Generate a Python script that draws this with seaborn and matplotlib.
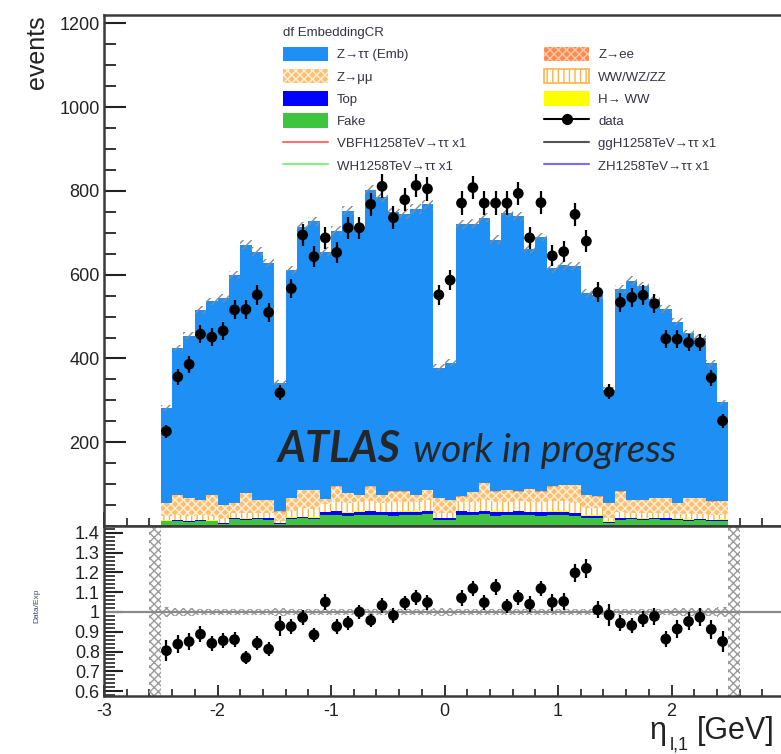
import numpy as np
import pandas as pd
import matplotlib
matplotlib.use("Agg")
import matplotlib.pyplot as plt
import seaborn as sns
from matplotlib.patches import Patch
from matplotlib.lines import Line2D
from matplotlib.ticker import MultipleLocator, FixedLocator, FormatStrFormatter, FixedFormatter
from matplotlib.colors import to_rgb

# ---------------- data ----------------
eta_edges = np.linspace(-2.5, 2.5, 51)

data_events = [226, 356, 386, 458, 451, 466, 516, 517, 552, 510,
               318, 567, 695, 643, 688, 653, 712, 712, 768, 811,
               736, 779, 813, 805, 552, 587, 771, 808, 771, 771,
               771, 794, 688, 772, 645, 655, 744, 680, 558, 320,
               534, 546, 551, 531, 447, 446, 438, 438, 354, 251]

mc_total = [281, 425, 454, 516, 536, 545, 600, 672, 655, 628,
            342, 612, 715, 727, 655, 705, 753, 712, 802, 785,
            749, 745, 757, 768, 378, 390, 720, 722, 736, 684,
            748, 739, 662, 690, 615, 622, 621, 557, 552, 325,
            566, 586, 572, 543, 518, 488, 460, 450, 388, 295]

fake = [11, 12, 10, 12, 11, 4, 16, 15, 16, 15,
        5, 17, 18, 17, 26, 27, 25, 26, 27, 26,
        25, 27, 26, 28, 14, 15, 27, 26, 28, 25,
        26, 27, 26, 25, 27, 26, 24, 20, 20, 8,
        15, 16, 14, 16, 15, 14, 13, 14, 12, 13]

top = [2, 2, 2, 2, 2, 2, 2, 2, 2, 3,
       1, 3, 3, 3, 7, 8, 7, 8, 8, 7,
       8, 7, 8, 8, 4, 4, 8, 7, 8, 9,
       7, 8, 7, 8, 7, 8, 7, 5, 5, 2,
       4, 3, 3, 3, 3, 3, 2, 2, 2, 2]

hww = [1, 1, 1, 1, 1, 1, 1, 1, 1, 1,
       1, 1, 1, 1, 1, 1, 1, 1, 1, 1,
       1, 1, 1, 1, 1, 1, 1, 1, 1, 1,
       1, 1, 1, 1, 1, 1, 1, 1, 1, 1,
       1, 1, 1, 1, 1, 1, 1, 1, 1, 1]

diboson = [10, 11, 10, 11, 10, 9, 11, 12, 11, 11,
           6, 14, 20, 20, 18, 22, 21, 22, 24, 22,
           23, 23, 22, 24, 12, 12, 22, 23, 25, 23,
           24, 23, 24, 23, 24, 25, 24, 18, 16, 8,
           14, 12, 12, 12, 12, 11, 12, 12, 11, 11]

zmumu = [30, 48, 43, 36, 50, 34, 24, 48, 32, 32,
         21, 31, 44, 45, 12, 36, 24, 17, 34, 18,
         25, 24, 17, 25, 35, 30, 12, 23, 40, 24,
         28, 23, 30, 25, 35, 38, 42, 30, 28, 35,
         48, 30, 32, 34, 35, 25, 38, 37, 32, 32]

zee = [1, 1, 1, 1, 1, 1, 1, 1, 1, 1,
       1, 1, 1, 1, 1, 1, 1, 1, 1, 1,
       1, 1, 1, 1, 1, 1, 1, 1, 1, 1,
       1, 1, 1, 1, 1, 1, 1, 1, 1, 1,
       1, 1, 1, 1, 1, 1, 1, 1, 1, 1]

y_ticks_main = [200, 400, 600, 800, 1000, 1200]
y_ticks_ratio = [0.6, 0.7, 0.8, 0.9, 1.0, 1.1, 1.2, 1.3, 1.4]
x_ticks = [-3, -2, -1, 0, 1, 2, 3]
x_tick_labels = ["-3", "-2", "-1", "0", "1", "2", ""]

# ---------------- derived ----------------
data_arr = np.array(data_events, dtype=float)
mc_arr = np.array(mc_total, dtype=float)
small = np.array(fake) + np.array(top) + np.array(hww) + np.array(diboson) + np.array(zmumu) + np.array(zee)
ztt = mc_arr - small
centers = 0.5 * (eta_edges[:-1] + eta_edges[1:])

procs = ["Z→ττ (Emb)", "Z→ee", "Z→μμ", "WW/WZ/ZZ", "H→ WW", "Top", "Fake"]
vals = [ztt, zee, zmumu, diboson, hww, top, fake]
rows = []
for p, v in zip(procs, vals):
    for c, w in zip(centers, v):
        rows.append((float(c), float(w), p))
df = pd.DataFrame(rows, columns=["eta", "events", "process"])

palette = {"Z→ττ (Emb)": "#1e8ff5", "Z→ee": "#ff8a50", "Z→μμ": "#ffbf70",
           "WW/WZ/ZZ": "#fffdf8", "H→ WW": "#ffff00", "Top": "#0000ff",
           "Fake": "#3fc43f"}
hatches = {"Z→ee": ("xxxx", "#ffc8a8"), "Z→μμ": ("xxxx", "#fff0dc"),
           "WW/WZ/ZZ": ("|||", "#ffb347")}

# ---------------- style ----------------
sns.set_theme(style="ticks")
plt.rcParams["font.family"] = ["Liberation Sans", "DejaVu Sans"]
plt.rcParams["axes.unicode_minus"] = False
plt.rcParams["hatch.linewidth"] = 1.0

fig = plt.figure(figsize=(7.81, 7.54), dpi=100)
L, W = 104 / 781, 681 / 781
ax = fig.add_axes([L, 1 - 526 / 754, W, (526 - 15) / 754])
ax2 = fig.add_axes([L, 1 - 696 / 754, W, (696 - 526) / 754], sharex=ax)

# stacked MC
sns.histplot(data=df, x="eta", weights="events", hue="process", hue_order=procs,
             multiple="stack", bins=[float(e) for e in eta_edges], element="step", fill=True,
             palette=palette, alpha=1, linewidth=0, legend=False, ax=ax)
for coll in ax.collections:
    fc = np.array(coll.get_facecolor())
    if fc.size == 0:
        continue
    for name, (h, hc) in hatches.items():
        if np.allclose(fc[0][:3], to_rgb(palette[name]), atol=0.01):
            coll.set_hatch(h)
            coll.set_edgecolor(hc)
            coll.set_linewidth(0)

# MC stat band
unc = 0.4 * np.sqrt(mc_arr)
ax.stairs(mc_arr + unc, eta_edges, baseline=mc_arr - unc, fill=True,
          facecolor="none", edgecolor="#8a8a8a", hatch="////", linewidth=0, zorder=3)

# data
ax.errorbar(centers, data_arr, yerr=np.sqrt(data_arr), fmt="none",
            ecolor="black", elinewidth=1.6, capsize=0, zorder=4)
sns.scatterplot(x=centers, y=data_arr, color="black", s=60, edgecolor="none",
                ax=ax, zorder=5, legend=False)

ax.set_xlim(-3, 3)
ax.set_ylim(0, 1220)
ax.set_xlabel("")
ax.set_ylabel("")
ax.yaxis.set_major_locator(FixedLocator(y_ticks_main))
ax.yaxis.set_minor_locator(MultipleLocator(50))
ax.xaxis.set_major_locator(FixedLocator(x_ticks))
ax.xaxis.set_minor_locator(MultipleLocator(0.2))
ax.tick_params(axis="y", which="major", direction="in", length=16, width=1.5,
               labelsize=13, pad=3, colors="#222222")
ax.tick_params(axis="y", which="minor", direction="in", length=8.5, width=1.3, colors="#222222")
ax.tick_params(axis="x", which="major", direction="in", length=10, width=1.3,
               labelbottom=False, colors="#222222")
ax.tick_params(axis="x", which="minor", direction="in", length=6, width=1.2, colors="#222222")
for s in ax.spines.values():
    s.set_linewidth(1.8)
    s.set_color("#3a3a3a")

# legend
handles = [
    Patch(facecolor=palette["Z→ττ (Emb)"], edgecolor="none"),
    Patch(facecolor=palette["Z→μμ"], edgecolor=hatches["Z→μμ"][1], hatch="xxxx", lw=0),
    Patch(facecolor=palette["Top"], edgecolor="none"),
    Patch(facecolor=palette["Fake"], edgecolor="none"),
    Line2D([0], [0], color="#ff7070", lw=1.5),
    Line2D([0], [0], color="#88f088", lw=1.5),
    Patch(facecolor=palette["Z→ee"], edgecolor=hatches["Z→ee"][1], hatch="xxxx", lw=0),
    Patch(facecolor="white", edgecolor="#ffb347", hatch="|||", lw=1.2),
    Patch(facecolor=palette["H→ WW"], edgecolor="none"),
    Line2D([0], [0], color="black", lw=1.5, marker="o", markersize=7),
    Line2D([0], [0], color="#555555", lw=1.5),
    Line2D([0], [0], color="#7a6cff", lw=1.5),
]
labels = ["Z→ττ (Emb)", "Z→μμ", "Top", "Fake", "VBFH1258TeV→ττ x1", "WH1258TeV→ττ x1",
          "Z→ee", "WW/WZ/ZZ", "H→ WW", "data", "ggH1258TeV→ττ x1", "ZH1258TeV→ττ x1"]
leg = ax.legend(handles, labels, ncol=2, loc="upper left",
                bbox_to_anchor=((283 - 104) / 681, 1 - (27 - 15) / 511),
                frameon=False, title="df EmbeddingCR", alignment="left",
                fontsize=9.5, title_fontsize=9.5, handlelength=3.4, handleheight=1.3,
                labelspacing=0.58, handletextpad=0.7, columnspacing=5.9,
                borderpad=0, borderaxespad=0)
for t in leg.get_texts():
    t.set_color("#333344")
leg.get_title().set_color("#333344")

# ---------------- ratio panel ----------------
rel = unc / mc_arr
ax2.stairs(1 + rel, eta_edges, baseline=1 - rel, fill=True, facecolor="none",
           edgecolor="#9a9a9a", hatch="xxxx", linewidth=0, zorder=1)
ax2.axvspan(-2.6, -2.5, facecolor="none", edgecolor="#9a9a9a", hatch="xxxx", linewidth=0, zorder=1)
ax2.axvspan(2.5, 2.6, facecolor="none", edgecolor="#9a9a9a", hatch="xxxx", linewidth=0, zorder=1)
ax2.axhline(1.0, color="#8a8a8a", lw=1.6, zorder=2)

ratio = data_arr / mc_arr
ratio_err = np.sqrt(data_arr) / mc_arr
lo, hi = 0.575, 1.435
inside = (ratio > lo) & (ratio < hi)
ax2.errorbar(centers[inside], ratio[inside], yerr=ratio_err[inside], fmt="none",
             ecolor="black", elinewidth=1.6, capsize=0, zorder=4)
sns.scatterplot(x=centers[inside], y=ratio[inside], color="black", s=60,
                edgecolor="none", ax=ax2, zorder=5, legend=False)

ax2.set_xlim(-3, 3)
ax2.set_ylim(lo, hi)
ax2.set_xlabel("")
ax2.set_ylabel("")
ax2.yaxis.set_major_locator(FixedLocator(y_ticks_ratio))
ax2.yaxis.set_major_formatter(FormatStrFormatter("%g"))
ax2.yaxis.set_minor_locator(MultipleLocator(0.02))
ax2.xaxis.set_major_locator(FixedLocator(x_ticks))
ax2.xaxis.set_major_formatter(FixedFormatter(x_tick_labels))
ax2.xaxis.set_minor_locator(MultipleLocator(0.2))
ax2.tick_params(axis="y", which="major", direction="in", length=14, width=1.5,
                labelsize=13, pad=3, colors="#222222")
ax2.tick_params(axis="y", which="minor", direction="in", length=8, width=1.2, colors="#222222")
ax2.tick_params(axis="x", which="major", direction="in", length=8, width=1.3,
                labelsize=13, pad=5, colors="#222222")
ax2.tick_params(axis="x", which="minor", direction="in", length=5, width=1.2, colors="#222222")
for s in ax2.spines.values():
    s.set_linewidth(1.8)
    s.set_color("#3a3a3a")

# ---------------- texts ----------------
fig.text(37 / 781, 1 - 15 / 754, "events", rotation=90, ha="center", va="top",
         fontsize=18, color="#222222")
fig.text(37 / 781, 1 - 606 / 754, "Data/Exp", rotation=90, ha="center", va="center",
         fontsize=6, color="#3a4a7a")
fig.text(649 / 781, 1 - 739 / 754, "η", ha="left", va="baseline", fontsize=22, color="#222222")
fig.text(670 / 781, 1 - 749 / 754, "l,1", ha="left", va="baseline", fontsize=13, color="#222222")
fig.text(697 / 781, 1 - 739 / 754, "[GeV]", ha="left", va="baseline", fontsize=22, color="#222222")
fig.text(278 / 781, 1 - 462 / 754, "ATLAS", ha="left", va="baseline", fontsize=31,
         fontweight="bold", style="italic", family=["Lato", "DejaVu Sans"])
fig.text(413 / 781, 1 - 462 / 754, "work in progress", ha="left", va="baseline", fontsize=28,
         style="italic", family=["Lato", "DejaVu Sans"])

fig.savefig("out.png", dpi=100)
